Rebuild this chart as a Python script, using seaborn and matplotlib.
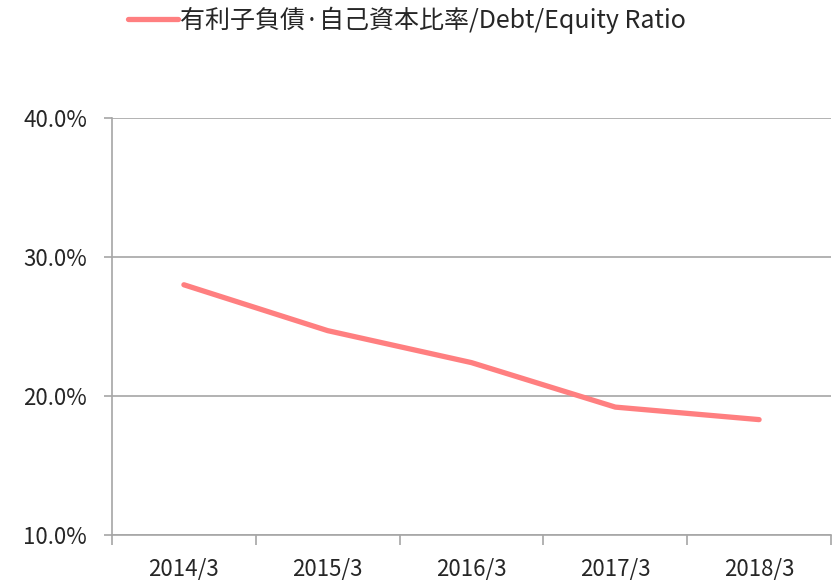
import numpy as np
import pandas as pd
import matplotlib
matplotlib.use('Agg')
import matplotlib.pyplot as plt
from matplotlib.ticker import FixedLocator, PercentFormatter
import seaborn as sns

years = ['2014/3', '2015/3', '2016/3', '2017/3', '2018/3']
ratio = [28.0, 24.7, 22.4, 19.2, 18.3]
series_name = '有利子負債·自己資本比率/Debt/Equity Ratio'

sns.set_style('white')
plt.rcParams['font.family'] = ['Noto Sans CJK JP', 'DejaVu Sans']

df = pd.DataFrame({'x': np.arange(len(years)), 'ratio': ratio, 'name': series_name})

fig = plt.figure(figsize=(8.34, 5.8), dpi=100)
ax = fig.add_axes([0.1343, 0.0776, 0.8621, 0.719])

sns.lineplot(data=df, x='x', y='ratio', hue='name', palette=['#ff7f80'],
             linewidth=3.8, ax=ax, solid_capstyle='round')

ax.set_xlim(-0.5, len(years) - 0.5)
ax.set_ylim(10, 40)
ax.set_yticks([10, 20, 30, 40])
ax.yaxis.set_major_formatter(PercentFormatter(decimals=1))
ax.grid(axis='y', color='#a6a6a6', linewidth=1.2)
ax.set_axisbelow(True)

# category boundaries get the tick marks, labels sit between them
ax.xaxis.set_major_locator(FixedLocator(np.arange(-0.5, len(years), 1.0)))
ax.set_xticklabels([])
ax.set_xticks(np.arange(len(years)), minor=True)
ax.set_xticklabels(years, minor=True)
ax.tick_params(axis='x', which='major', length=7, width=1.2, color='#a6a6a6', direction='out', bottom=True)
ax.tick_params(axis='x', which='minor', length=0, pad=16, labelsize=16)
ax.tick_params(axis='y', length=6, width=1.2, color='#a6a6a6', left=True, labelsize=16, pad=12)

for s in ['top', 'right']:
    ax.spines[s].set_visible(False)
for s in ['left', 'bottom']:
    ax.spines[s].set_color('#a6a6a6')
    ax.spines[s].set_linewidth(1.2)

ax.set_xlabel('')
ax.set_ylabel('')
ax.legend_.remove()
handles, labels = ax.get_legend_handles_labels()
fig.legend(handles, labels, loc='upper center', bbox_to_anchor=(0.488, 1.027),
           frameon=False, fontsize=18, handlelength=2.0, handletextpad=0.1)

fig.savefig('out.png', dpi=100)
